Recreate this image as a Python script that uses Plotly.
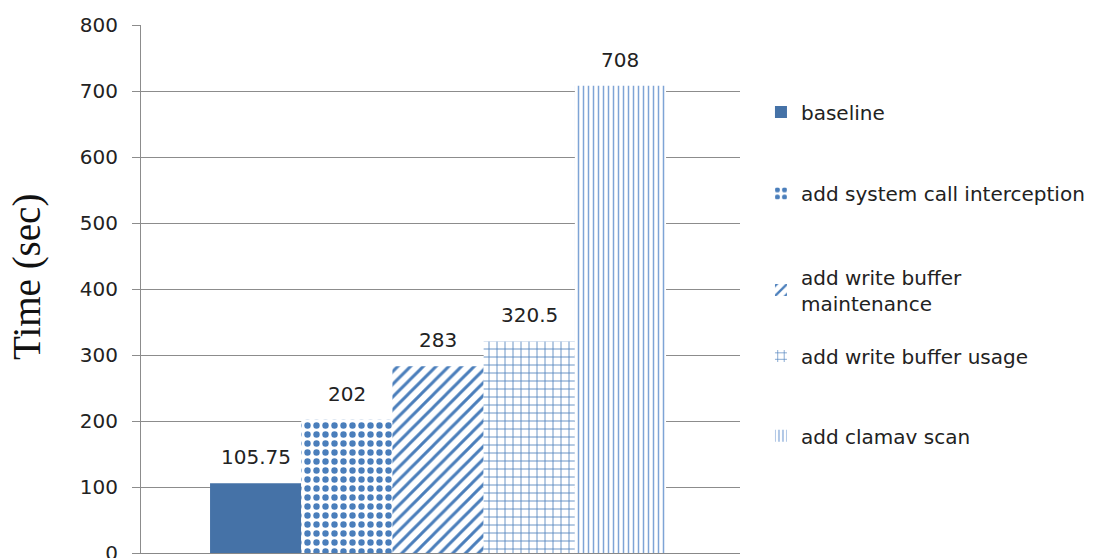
import plotly.graph_objects as go

# Run-time of each configuration (seconds)
series = [
    "baseline",
    "add system call interception",
    "add write buffer<br>maintenance",
    "add write buffer usage",
    "add clamav scan",
]
times = [105.75, 202, 283, 320.5, 708]
labels = ["105.75", "202", "283", "320.5", "708"]

# fill style per series
patterns = ["", ".", "/", "+", "|"]
pattern_sizes = [8, 9, 9, 8, 5]
pattern_solidity = [0.3, 0.4, 0.33, 0.2, 0.3]
solid_blue = "#4572a7"
fg_colors = ["#4a7ebb", "#4a7ebb", "#4a7ebb", "#4f81bd", "#7ea4d6"]

# vertical centre of each legend entry, in paper units
legend_y = [0.835, 0.681, 0.498, 0.373, 0.222]

ytick_vals = [0, 100, 200, 300, 400, 500, 600, 700, 800]

LABEL_FONT = "DejaVu Sans"
TEXT_COLOR = "#222222"

fig = go.Figure()
for i, name in enumerate(series):
    if patterns[i] == "":
        marker = dict(color=solid_blue, line=dict(width=0))
    else:
        marker = dict(
            color="white",
            line=dict(width=0),
            pattern=dict(
                shape=patterns[i],
                fgcolor=fg_colors[i],
                bgcolor="white",
                fillmode="replace",
                size=pattern_sizes[i],
                solidity=pattern_solidity[i],
            ),
        )
    legend_id = "legend" if i == 0 else f"legend{i + 1}"
    fig.add_trace(
        go.Bar(
            x=[i],
            y=[times[i]],
            width=1,
            name=name,
            legend=legend_id,
            marker=marker,
            showlegend=True,
        )
    )
    # value label above each bar
    fig.add_annotation(
        x=i,
        y=times[i],
        text=labels[i],
        showarrow=False,
        yanchor="middle",
        yshift=26,
        font=dict(family=LABEL_FONT, size=20, color=TEXT_COLOR),
    )

legend_layout = {}
for i in range(len(series)):
    key = "legend" if i == 0 else f"legend{i + 1}"
    legend_layout[key] = dict(
        x=1.035,
        xanchor="left",
        y=legend_y[i],
        yanchor="middle",
        font=dict(family=LABEL_FONT, size=20, color=TEXT_COLOR),
        itemwidth=30,
        bgcolor="rgba(0,0,0,0)",
    )

fig.update_layout(
    width=1107,
    height=558,
    margin=dict(l=141, r=367, t=25, b=5, autoexpand=False),
    paper_bgcolor="white",
    plot_bgcolor="white",
    barmode="overlay",
    showlegend=True,
    xaxis=dict(
        range=[-1.257, 5.311],
        automargin=False,
        showticklabels=False,
        showgrid=False,
        zeroline=False,
        showline=True,
        linecolor="#888888",
        ticks="",
        fixedrange=True,
    ),
    yaxis=dict(
        range=[0, 800],
        automargin=False,
        tickvals=ytick_vals,
        showgrid=True,
        gridcolor="#8c8c8c",
        gridwidth=1,
        zeroline=False,
        showline=True,
        linecolor="#8c8c8c",
        ticks="outside",
        ticklen=8,
        tickcolor="#8c8c8c",
        ticklabelstandoff=10,
        ticklabeloverflow="allow",
        tickfont=dict(family=LABEL_FONT, size=20, color=TEXT_COLOR),
    ),
    **legend_layout,
)

# y-axis title
fig.add_annotation(
    xref="paper",
    yref="paper",
    x=-0.19,
    y=0.523,
    xanchor="center",
    yanchor="middle",
    text="Time (sec)",
    textangle=-90,
    showarrow=False,
    font=dict(family="Liberation Serif", size=39, color="#111111"),
)

fig.write_html("out.html")
